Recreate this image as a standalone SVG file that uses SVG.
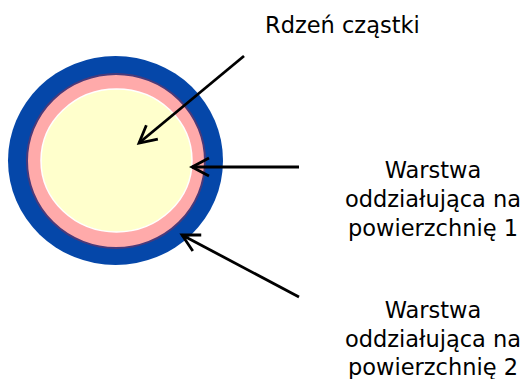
<svg xmlns="http://www.w3.org/2000/svg" width="527" height="379" viewBox="0 0 527 379">
  <style>
    .lbl { font-family: "DejaVu Sans", Verdana, sans-serif; font-size: 22.5px; fill: #000; }
    .mid { text-anchor: middle; }
    .arrow { fill: none; stroke: #000; stroke-width: 2.8; marker-end: url(#head); }
  </style>
  <defs>
    <marker id="head" viewBox="0 0 22 22" refX="19" refY="11" markerWidth="22" markerHeight="22" markerUnits="userSpaceOnUse" orient="auto">
      <path d="M2,2 L19,11 L2,20" fill="none" stroke="#000" stroke-width="2.8"/>
    </marker>
  </defs>
  <rect width="527" height="379" fill="#fff"/>

  <g id="particle">
    <ellipse id="shell-2" cx="115.5" cy="160.5" rx="107.5" ry="104.5" fill="#0547a9"/>
    <ellipse id="shell-1" cx="116" cy="161" rx="89" ry="87" fill="#ffaaaa" stroke="#4a3a7a" stroke-width="2"/>
    <ellipse id="core" cx="116.5" cy="160.5" rx="75.5" ry="71.5" fill="#ffffcc" stroke="#fff" stroke-width="1.5"/>
  </g>

  <g id="connectors">
    <line class="arrow" x1="244" y1="56" x2="139" y2="143"/>
    <line class="arrow" x1="299" y1="167" x2="192" y2="167"/>
    <line class="arrow" x1="299" y1="297" x2="182" y2="235"/>
  </g>

  <g id="label-core">
    <text class="lbl" x="265" y="33">Rdzeń cząstki</text>
  </g>
  <g id="label-layer-1">
    <text class="lbl mid" x="433" y="178">Warstwa</text>
    <text class="lbl mid" x="433" y="207">oddziałująca na</text>
    <text class="lbl mid" x="433" y="236">powierzchnię 1</text>
  </g>
  <g id="label-layer-2">
    <text class="lbl mid" x="433" y="318">Warstwa</text>
    <text class="lbl mid" x="433" y="347">oddziałująca na</text>
    <text class="lbl mid" x="433" y="375">powierzchnię 2</text>
  </g>
</svg>
